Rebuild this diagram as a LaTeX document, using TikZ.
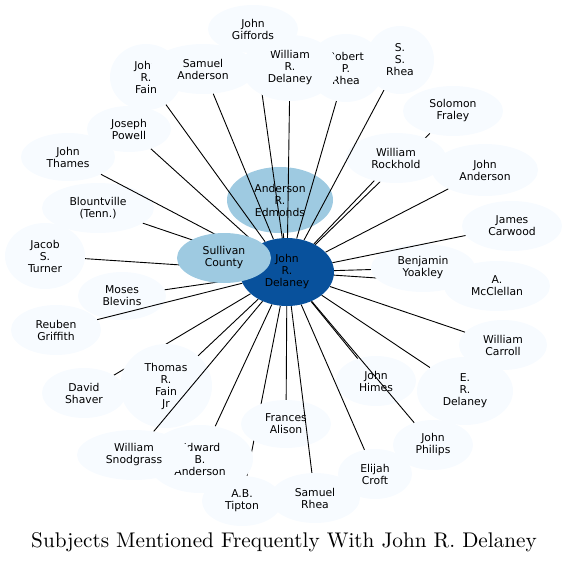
\documentclass[tikz,border=0pt]{standalone}
\usepackage{fontspec}
\newfontfamily\labelfont{DejaVu Sans}
\newfontfamily\titlefont{lmroman10-regular}[Extension=.otf]
\usepackage{xcolor}
\usetikzlibrary{shapes.geometric, positioning}
\definecolor{paleblue}{HTML}{F7FBFF}
\definecolor{midblue}{HTML}{9ECAE1}
\definecolor{darkblue}{HTML}{08519C}
\pgfdeclarelayer{back}
\pgfdeclarelayer{under}
\pgfdeclarelayer{names}
\pgfdeclarelayer{over}
\pgfsetlayers{back,under,names,over,main}

\begin{document}
\begin{tikzpicture}[x=1pt,y=-1pt]
\tikzstyle{person}=[ellipse,fill=paleblue,inner sep=0pt,align=center,font=\labelfont\fontsize{10.8}{12}\selectfont]
\tikzstyle{hub}=[person,fill=midblue]
\tikzstyle{link}=[line width=0.9pt]

\useasboundingbox (0,0) rectangle (567,562);

% centre and the two big neighbours
\begin{pgfonlayer}{back}
\node[hub,minimum width=106,minimum height=66] (edmonds) at (280,200) {Anderson\\R.\\Edmonds};
\end{pgfonlayer}
\node[person,fill=darkblue,minimum width=94,minimum height=68] (delaney) at (287,272) {John\\R.\\Delaney};
\node[hub,minimum width=94,minimum height=50] (sullivan) at (224,258) {Sullivan\\County};

\begin{pgfonlayer}{names}
\node[person,minimum width=72,minimum height=66] (fain) at (146,77) {John\\R.\\Fain};
\node[person,minimum width=106,minimum height=50] (samanderson) at (203,69) {Samuel\\Anderson};
\node[person,minimum width=76,minimum height=68] (rprhea) at (346,68) {Robert\\P.\\Rhea};
\node[person,minimum width=96,minimum height=66] (wrdelaney) at (290,68) {William\\R.\\Delaney};
\node[person,minimum width=90,minimum height=48] (giffords) at (253,29) {John\\Giffords};
\node[person,minimum width=68,minimum height=68] (ssrhea) at (400,60) {S.\\S.\\Rhea};
\node[person,minimum width=100,minimum height=50] (fraley) at (453,111) {Solomon\\Fraley};
\node[person,minimum width=100,minimum height=50] (rockhold) at (396,158) {William\\Rockhold};
\node[person,minimum width=106,minimum height=52] (janderson) at (485,170) {John\\Anderson};
\node[person,minimum width=100,minimum height=50] (carwood) at (512,226) {James\\Carwood};
\node[person,minimum width=106,minimum height=50] (mcclellan) at (497,286) {A.\\McClellan};
\node[person,minimum width=104,minimum height=48] (yoakley) at (423,268) {Benjamin\\Yoakley};
\node[person,minimum width=88,minimum height=50] (carroll) at (503,345) {William\\Carroll};
\node[person,minimum width=96,minimum height=68] (erdelaney) at (465,391) {E.\\R.\\Delaney};
\node[person,minimum width=80,minimum height=50] (himes) at (376,381) {John\\Himes};
\node[person,minimum width=80,minimum height=50] (philips) at (433,445) {John\\Philips};
\node[person,minimum width=74,minimum height=50] (croft) at (375,474) {Elijah\\Croft};
\node[person,minimum width=90,minimum height=50] (srhea) at (315,498) {Samuel\\Rhea};
\node[person,minimum width=90,minimum height=48] (alison) at (286,424) {Frances\\Alison};
\node[person,minimum width=106,minimum height=68] (edanderson) at (200,459) {Edward\\B.\\Anderson};
\node[person,minimum width=80,minimum height=50] (tipton) at (242,501) {A.B.\\Tipton};
\node[person,minimum width=114,minimum height=50] (snodgrass) at (134,455) {William\\Snodgrass};
\node[person,minimum width=84,minimum height=50] (shaver) at (84,393) {David\\Shaver};
\node[person,minimum width=92,minimum height=84] (tfainjr) at (166,386) {Thomas\\R.\\Fain\\Jr};
\node[person,minimum width=90,minimum height=50] (griffith) at (56,330) {Reuben\\Griffith};
\node[person,minimum width=88,minimum height=48] (blevins) at (122,296) {Moses\\Blevins};
\node[person,minimum width=80,minimum height=66] (turner) at (45,256) {Jacob\\S.\\Turner};
\node[person,minimum width=112,minimum height=50] (blountville) at (98,208) {Blountville\\(Tenn.)};
\node[person,minimum width=94,minimum height=48] (thames) at (68,157) {John\\Thames};
\node[person,minimum width=84,minimum height=46] (powell) at (129,129) {Joseph\\Powell};
\end{pgfonlayer}

% links hidden behind other names
\begin{pgfonlayer}{under}
\foreach \n in {giffords,shaver,tipton,mcclellan,fraley}
  \draw[link] (delaney) -- (\n);
\end{pgfonlayer}

\begin{pgfonlayer}{over}
\foreach \n in {edmonds,fain,samanderson,wrdelaney,rprhea,ssrhea,rockhold,janderson,
  carwood,yoakley,carroll,erdelaney,himes,philips,croft,srhea,alison,edanderson,
  snodgrass,tfainjr,griffith,blevins,turner,blountville,thames,powell}
  \draw[link] (delaney) -- (\n);
\end{pgfonlayer}

\node[font=\titlefont\fontsize{21.2}{25}\selectfont,anchor=base] (title) at (284,547) {Subjects Mentioned Frequently With John R. Delaney};

\end{tikzpicture}
\end{document}
